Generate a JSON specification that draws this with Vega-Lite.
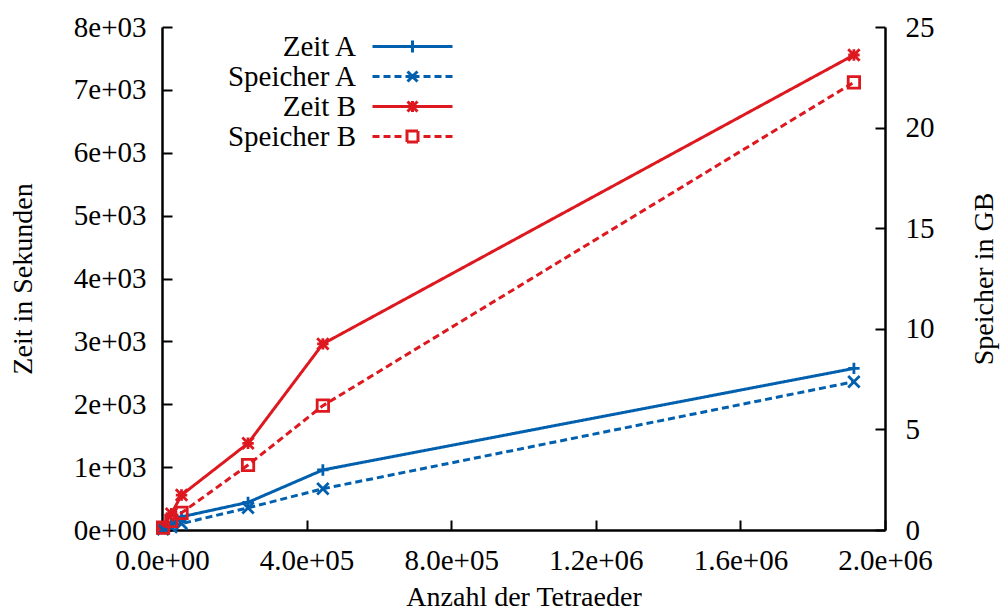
{
  "$schema": "https://vega.github.io/schema/vega-lite/v6.json",
  "width": 723,
  "height": 503,
  "autosize": {"type": "none"},
  "padding": {"left": 162, "top": 27, "right": 117, "bottom": 83},
  "background": "white",
  "config": {
    "view": {"stroke": null},
    "font": "Liberation Serif",
    "axis": {
      "labelFont": "Liberation Serif", "titleFont": "Liberation Serif",
      "labelFontSize": 29, "titleFontSize": 28, "labelColor": "black", "titleColor": "black",
      "titleFontWeight": "normal", "domainColor": "black", "domainWidth": 2.5,
      "tickColor": "black", "tickWidth": 2, "tickSize": -10, "grid": false, "labelFlush": false
    },
    "legend": {"labelFont": "Liberation Serif", "labelFontSize": 29, "labelColor": "black"}
  },
  "datasets": {
    "zeit": [
      {"n": 3000, "series": "Zeit A", "value": 25},
      {"n": 26000, "series": "Zeit A", "value": 100},
      {"n": 54000, "series": "Zeit A", "value": 210},
      {"n": 238000, "series": "Zeit A", "value": 440},
      {"n": 445000, "series": "Zeit A", "value": 955},
      {"n": 1914000, "series": "Zeit A", "value": 2570},
      {"n": 3000, "series": "Zeit B", "value": 40},
      {"n": 26000, "series": "Zeit B", "value": 260},
      {"n": 54000, "series": "Zeit B", "value": 556},
      {"n": 238000, "series": "Zeit B", "value": 1379},
      {"n": 445000, "series": "Zeit B", "value": 2960},
      {"n": 1914000, "series": "Zeit B", "value": 7555}
    ],
    "speicher": [
      {"n": 3000, "series": "Speicher A", "value": 0.03},
      {"n": 26000, "series": "Speicher A", "value": 0.15},
      {"n": 54000, "series": "Speicher A", "value": 0.32},
      {"n": 238000, "series": "Speicher A", "value": 1.1},
      {"n": 445000, "series": "Speicher A", "value": 2.05},
      {"n": 1914000, "series": "Speicher A", "value": 7.37},
      {"n": 3000, "series": "Speicher B", "value": 0.12},
      {"n": 26000, "series": "Speicher B", "value": 0.45},
      {"n": 54000, "series": "Speicher B", "value": 0.85},
      {"n": 238000, "series": "Speicher B", "value": 3.23},
      {"n": 445000, "series": "Speicher B", "value": 6.18},
      {"n": 1914000, "series": "Speicher B", "value": 22.25}
    ]
  },
  "encoding": {
    "x": {
      "field": "n", "type": "quantitative",
      "scale": {"domain": [0, 2000000], "nice": false, "zero": false},
      "axis": {
        "title": "Anzahl der Tetraeder", "values": [0, 400000, 800000, 1200000, 1600000, 2000000],
        "labelExpr": "datum.value == 0 ? '0.0e+00' : datum.value < 1000000 ? format(datum.value/100000, '.1f') + 'e+05' : format(datum.value/1000000, '.1f') + 'e+06'",
        "labelPadding": 26, "titlePadding": 8
      }
    },
    "color": {
      "field": "series", "type": "nominal",
      "scale": {"domain": ["Zeit A", "Speicher A", "Zeit B", "Speicher B"], "range": ["#0060ad", "#0060ad", "#dd181f", "#dd181f"]},
      "legend": {
        "title": null, "orient": "none", "legendX": 206, "legendY": 5,
        "padding": 0, "rowPadding": -2, "symbolOffset": 30, "labelOffset": -71, "labelAlign": "right",
        "symbolSize": 400, "symbolStrokeWidth": 2.5,
        "encode": {"symbols": {"update": {
          "shape": {"signal": "datum.value == 'Zeit A' ? 'M-4,0H4M0,-0.6V0.6' : datum.value == 'Speicher A' ? 'M-4,0H-3.3M-2.9,0H-2.2M-1.8,0H-1.1M-0.7,0H0.7M1.1,0H1.8M2.2,0H2.9M3.3,0H4M-0.5,-0.5L0.5,0.5M-0.5,0.5L0.5,-0.5' : datum.value == 'Zeit B' ? 'M-4,0H4M-0.55,0H0.55M0,-0.55V0.55M-0.5,-0.5L0.5,0.5M-0.5,0.5L0.5,-0.5' : 'M-4,0H-3.3M-2.9,0H-2.2M-1.8,0H-1.1M-0.7,0H-0.55M0.55,0H0.7M1.1,0H1.8M2.2,0H2.9M3.3,0H4M-0.55,-0.55H0.55V0.55H-0.55Z'"},
          "strokeDash": {"value": [1, 0]},
          "fill": {"value": "transparent"},
          "size": {"value": 400},
          "strokeWidth": {"value": 3},
          "opacity": {"value": 1}
        }}}
      }
    }
  },
  "layer": [
    {
      "data": {"name": "zeit"},
      "encoding": {
        "y": {
          "field": "value", "type": "quantitative",
          "scale": {"domain": [0, 8000], "nice": false},
          "axis": {
            "orient": "left", "title": "Zeit in Sekunden",
            "values": [0, 1000, 2000, 3000, 4000, 5000, 6000, 7000, 8000],
            "labelExpr": "datum.value == 0 ? '0e+00' : format(datum.value/1000, 'd') + 'e+03'",
            "labelPadding": 26, "titlePadding": 36
          }
        }
      },
      "layer": [
        {
          "mark": {"type": "line", "strokeWidth": 3},
          "encoding": {
            "strokeDash": {"field": "series", "type": "nominal",
              "scale": {"domain": ["Speicher A", "Zeit A", "Speicher B", "Zeit B"], "range": [[7, 4], [1, 0], [7, 4], [1, 0]]}, "legend": null}
          }
        },
        {
          "mark": {"type": "point", "filled": false, "strokeWidth": 2.8, "size": 130, "opacity": 1},
          "encoding": {
            "shape": {"field": "series", "type": "nominal",
              "scale": {"domain": ["Speicher B", "Zeit B", "Speicher A", "Zeit A"], "range": ["M-1,-1H1V1H-1Z", "M-1,0H1M0,-1V1M-1,-1L1,1M-1,1L1,-1", "M-1,-1L1,1M-1,1L1,-1", "M-1,0H1M0,-1V1"]}, "legend": null}
          }
        }
      ]
    },
    {
      "data": {"name": "speicher"},
      "encoding": {
        "y": {
          "field": "value", "type": "quantitative",
          "scale": {"domain": [0, 25], "nice": false},
          "axis": {
            "orient": "right", "title": "Speicher in GB", "titleAngle": 270,
            "values": [0, 5, 10, 15, 20, 25],
            "labelPadding": 30, "titlePadding": 64
          }
        }
      },
      "layer": [
        {
          "mark": {"type": "line", "strokeWidth": 3},
          "encoding": {
            "strokeDash": {"field": "series", "type": "nominal",
              "scale": {"domain": ["Speicher A", "Zeit A", "Speicher B", "Zeit B"], "range": [[7, 4], [1, 0], [7, 4], [1, 0]]}, "legend": null}
          }
        },
        {
          "mark": {"type": "point", "filled": false, "strokeWidth": 2.8, "size": 130, "opacity": 1},
          "encoding": {
            "shape": {"field": "series", "type": "nominal",
              "scale": {"domain": ["Speicher B", "Zeit B", "Speicher A", "Zeit A"], "range": ["M-1,-1H1V1H-1Z", "M-1,0H1M0,-1V1M-1,-1L1,1M-1,1L1,-1", "M-1,-1L1,1M-1,1L1,-1", "M-1,0H1M0,-1V1"]}, "legend": null}
          }
        }
      ]
    }
  ],
  "resolve": {"scale": {"y": "independent"}}
}
